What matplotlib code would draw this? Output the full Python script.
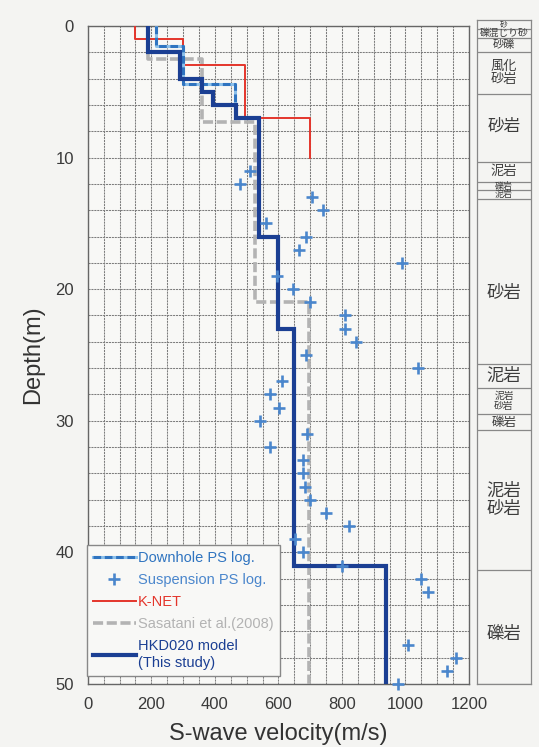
import matplotlib
matplotlib.use('Agg')
import matplotlib.pyplot as plt
from matplotlib.lines import Line2D

# ── data ─────────────────────────────────────────────────────────────────────
# step profiles: layer boundaries (m) and Vs of each layer (m/s)
KNET_DEPTH = [0, 1, 3, 7, 10]
KNET_VS    = [150, 300, 495, 700]

DOWNHOLE_DEPTH = [0, 1.5, 4.4, 7]
DOWNHOLE_VS    = [215, 300, 463]

SASATANI_DEPTH = [0, 2.5, 7.3, 21, 50]
SASATANI_VS    = [190, 360, 525, 695]

MODEL_DEPTH = [0, 2, 4, 5, 6, 7, 16, 23, 41, 50]
MODEL_VS    = [190, 290, 360, 395, 465, 540, 600, 650, 940]

# suspension PS logging points
SUSP_DEPTH = [11, 12, 13, 14, 15, 16, 17, 18, 19, 20, 21, 22, 23, 24, 25, 26,
              27, 28, 29, 30, 31, 32, 33, 34, 35, 36, 37, 38, 39, 40, 41, 42,
              43, 47, 48, 49, 50]
SUSP_VS    = [512, 479, 707, 741, 560, 687, 665, 988, 597, 647, 699, 809, 809,
              843, 687, 1040, 610, 575, 603, 543, 689, 575, 676, 676, 684, 699,
              749, 822, 652, 676, 801, 1048, 1072, 1009, 1158, 1132, 977]

# geology column
GEO_TOP    = [-0.45, 0.23, 0.9, 2.0, 5.2, 10.3, 11.85, 12.5, 13.15, 25.7, 27.5, 29.5, 30.7, 41.3]
GEO_BOT    = [0.23, 0.9, 2.0, 5.2, 10.3, 11.85, 12.5, 13.15, 25.7, 27.5, 29.5, 30.7, 41.3, 50]
GEO_LABELS = ['砂', '礫混じり砂', '砂礫', '風化\n砂岩', '砂岩', '泥岩', '礫岩', '泥岩',
              '砂岩', '泥岩', '泥岩\n砂岩', '礫岩', '泥岩\n砂岩', '礫岩']
GEO_SIZES  = [5.5, 7, 8, 9.5, 12, 9.5, 6.5, 6.5, 12.5, 12.5, 7, 9, 12.5, 12.5]
GEO_YPOS   = [None, None, None, None, 7.6, None, None, None, 20.3, None, None, None, 36.0, 46.2]

BG = '#f4f4f2'
C_MODEL = '#1b3f93'
C_KNET = '#e4352b'
C_SASA = '#b3b3b3'
C_DOWN = '#2f74c0'
C_DOWN2 = '#8cc0ea'
C_SUSP = '#4a86cc'


def step(depths, vs):
    xs, ys = [], []
    for i, v in enumerate(vs):
        xs += [v, v]
        ys += [depths[i], depths[i + 1]]
    return xs, ys


plt.rcParams['font.family'] = ['Liberation Sans', 'DejaVu Sans']

fig = plt.figure(figsize=(5.39, 7.47), dpi=100, facecolor=BG)
ax = fig.add_axes([0.163, 0.0843, 0.707, 0.881])
ax.set_facecolor('#f8f8f6')

# grid
ax.set_xticks(range(0, 1201, 200))
ax.set_xticks(range(0, 1201, 50), minor=True)
ax.set_yticks(range(0, 51, 10))
ax.set_yticks(range(0, 51, 2), minor=True)
ax.grid(True, which='both', color='#7d7d7d', lw=0.75, ls=(0, (2, 0.8)))
ax.set_axisbelow(True)

# profiles
x, y = step(SASATANI_DEPTH, SASATANI_VS)
ax.plot(x, y, color=C_SASA, lw=2.6, ls=(0, (2.8, 1.0)), zorder=3)
x, y = step(KNET_DEPTH, KNET_VS)
ax.plot(x, y, color=C_KNET, lw=1.4, zorder=3)
x, y = step(DOWNHOLE_DEPTH, DOWNHOLE_VS)
ax.plot(x, y, color=C_DOWN2, lw=2.2, zorder=4)
ax.plot(x, y, color=C_DOWN, lw=2.2, ls=(0, (2.5, 1.2)), zorder=4)
x, y = step(MODEL_DEPTH, MODEL_VS)
ax.plot(x, y, color=C_MODEL, lw=3.0, zorder=5, solid_joinstyle='miter')
ax.plot(SUSP_VS, SUSP_DEPTH, ls='none', marker='+', ms=8.5, mew=1.9,
        color=C_SUSP, zorder=6, clip_on=False)

ax.set_xlim(0, 1200)
ax.set_ylim(50, 0)
ax.tick_params(which='both', length=0, labelsize=12, labelcolor='#3a3a3a')
ax.tick_params(axis='y', pad=10)
ax.tick_params(axis='x', pad=9)
for s in ax.spines.values():
    s.set_color('#666666')
    s.set_linewidth(1.0)
ax.set_xlabel('S-wave velocity(m/s)', fontsize=17, color='#333333', labelpad=8)
ax.set_ylabel('Depth(m)', fontsize=17, color='#333333', labelpad=8)

# legend
h_down = (Line2D([], [], color=C_DOWN2, lw=2.2),
          Line2D([], [], color=C_DOWN, lw=2.2, ls=(0, (2.5, 1.2))))
h_susp = Line2D([], [], ls='none', marker='+', ms=8.5, mew=1.9, color=C_SUSP)
h_knet = Line2D([], [], color=C_KNET, lw=1.4)
h_sasa = Line2D([], [], color=C_SASA, lw=2.6, ls=(0, (2.8, 1.0)))
h_model = Line2D([], [], color=C_MODEL, lw=3.0)
leg = ax.legend([h_down, h_susp, h_knet, h_sasa, h_model],
                ['Downhole PS log.', 'Suspension PS log.', 'K-NET',
                 'Sasatani et al.(2008)', 'HKD020 model\n(This study)'],
                loc='lower left', bbox_to_anchor=(-0.003, 0.012), borderaxespad=0,
                fontsize=10.5, handlelength=2.9, handletextpad=0.15,
                labelspacing=0.55, fancybox=False, framealpha=1,
                facecolor='#f8f8f6', edgecolor='#888888', borderpad=0.45)
leg.set_zorder(10)
for t, c in zip(leg.get_texts(), [C_DOWN, C_SUSP, C_KNET, C_SASA, C_MODEL]):
    t.set_color(c)

# geology column
cax = fig.add_axes([0.885, 0.0843, 0.100, 0.8889])
cax.set_facecolor(BG)
cax.set_xlim(0, 1)
cax.set_ylim(50, -0.45)
cax.set_xticks([])
cax.set_yticks([])
for s in cax.spines.values():
    s.set_color('#888888')
    s.set_linewidth(0.9)
for top, bot, lab, fs, yp in zip(GEO_TOP, GEO_BOT, GEO_LABELS, GEO_SIZES, GEO_YPOS):
    cax.axhline(bot, color='#888888', lw=0.9)
    yc = (top + bot) / 2 if yp is None else yp
    cax.text(0.5, yc, lab, ha='center', va='center', fontsize=fs,
             color='#3c3c3c', family=['Noto Sans CJK JP', 'DejaVu Sans'],
             linespacing=1.0)

fig.savefig('out.png', dpi=100, facecolor=BG)
